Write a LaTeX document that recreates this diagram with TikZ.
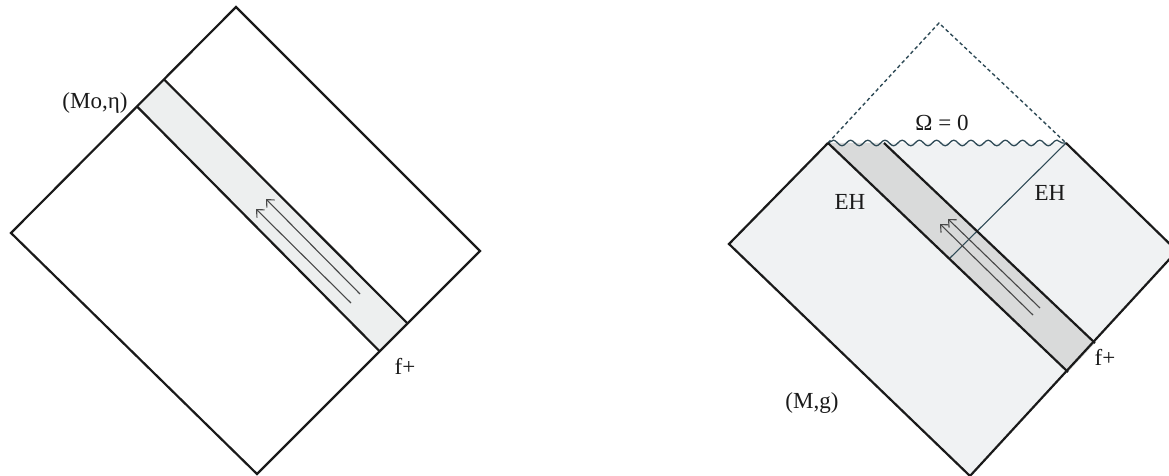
\documentclass[tikz,border=0pt]{standalone}
\usepackage{fontspec}
\setmainfont{Liberation Serif}
\usepackage{tikz}
\usetikzlibrary{arrows.meta,calc,decorations.pathmorphing}
\definecolor{ink}{HTML}{1A1A1A}
\definecolor{tealink}{HTML}{2E4A56}
\definecolor{palegray}{HTML}{EDEFEF}
\definecolor{bggray}{HTML}{F0F2F3}
\definecolor{stripgray}{HTML}{D9DADA}
\tikzset{
  bound/.style   ={draw=ink,line width=1.1pt,line join=miter},
  flowline/.style={-{Straight Barb[length=3pt,width=5.5pt]},line width=0.55pt,draw=ink!80},
  horizon/.style ={draw=tealink,line width=0.55pt},
  infline/.style ={draw=tealink,line width=0.7pt,dash pattern=on 1.8pt off 1.4pt},
  wavy/.style    ={draw=tealink,line width=0.65pt,decorate,
                   decoration={snake,segment length=8.6pt,amplitude=1.4pt}},
  lbl/.style     ={font=\fontsize{11.5}{13}\selectfont,text=ink,inner sep=1pt}
}
\begin{document}
\begin{tikzpicture}[x=0.5pt,y=-0.5pt]
    \useasboundingbox (0,0) rectangle (1169,476);
    \clip (0,0) rectangle (1169,476);
    % flat space
    \coordinate (Lt) at (236,7);   \coordinate (Ll) at (11,233);
    \coordinate (Lb) at (257,474); \coordinate (Lr) at (480,251);
    \coordinate (La) at ($(Ll)!0.56!(Lt)$);  \coordinate (Lc) at ($(Ll)!0.68!(Lt)$);
    \coordinate (Le) at ($(Lb)!0.55!(Lr)$);  \coordinate (Ld) at ($(Lb)!0.675!(Lr)$);
    \fill[palegray] (La) -- (Lc) -- (Ld) -- (Le) -- cycle;
    \draw[bound] (Lt) -- (Lr) -- (Lb) -- (Ll) -- cycle;
    \draw[bound] (La) -- (Le) (Lc) -- (Ld);
    \coordinate (ray1s) at (351,303); \coordinate (ray1e) at (256,209);
    \coordinate (ray2s) at (360,294); \coordinate (ray2e) at (266,199);
    \draw[flowline] (ray1s) -- (ray1e); \draw[flowline] (ray2s) -- (ray2e);
    \node[lbl] (mink) at (95,103) {(Mo,η)};
    \node[lbl] (scri1) at (405,366) {f+};
    % collapsed space
    \coordinate (Rl) at (729,244);  \coordinate (Rn) at (828,143);
    \coordinate (Rm) at (1066,143); \coordinate (Rr) at (1177,251);
    \coordinate (Rb) at (970,476);  \coordinate (Ri) at (939,23);
    \coordinate (Rs) at (884,143);  \coordinate (Ru) at (1068,372);
    \coordinate (Rv) at (1095,343); \coordinate (Rh) at (950,258);
    \fill[bggray] (Rl) -- (Rn) -- (Rm) -- (Rr) -- (Rb) -- cycle;
    \fill[stripgray] (Rn) -- (Rs) -- (Rv) -- (Ru) -- cycle;
    \draw[infline] (Rn) -- (Ri) -- (Rm);
    \draw[wavy] (Rn) -- (Rm);
    \draw[horizon] (Rm) -- (Rh);
    \draw[bound] (Rn) -- (Rl) -- (Rb) -- (Rr) -- (Rm);
    \draw[bound] (Rn) -- (Ru) (Rs) -- (Rv);
    \coordinate (ray3s) at (1033,315); \coordinate (ray3e) at (940,224);
    \coordinate (ray4s) at (1040,308); \coordinate (ray4e) at (948,219);
    \draw[flowline] (ray3s) -- (ray3e); \draw[flowline] (ray4s) -- (ray4e);
    \node[lbl] (omega) at (942,123) {Ω = 0};
    \node[lbl] (eh1) at (850,202) {EH};
    \node[lbl] (eh2) at (1050,193) {EH};
    \node[lbl] (scri2) at (1105,357) {f+};
    \node[lbl] (mg) at (812,403) {(M,g)};
\end{tikzpicture}
\end{document}
